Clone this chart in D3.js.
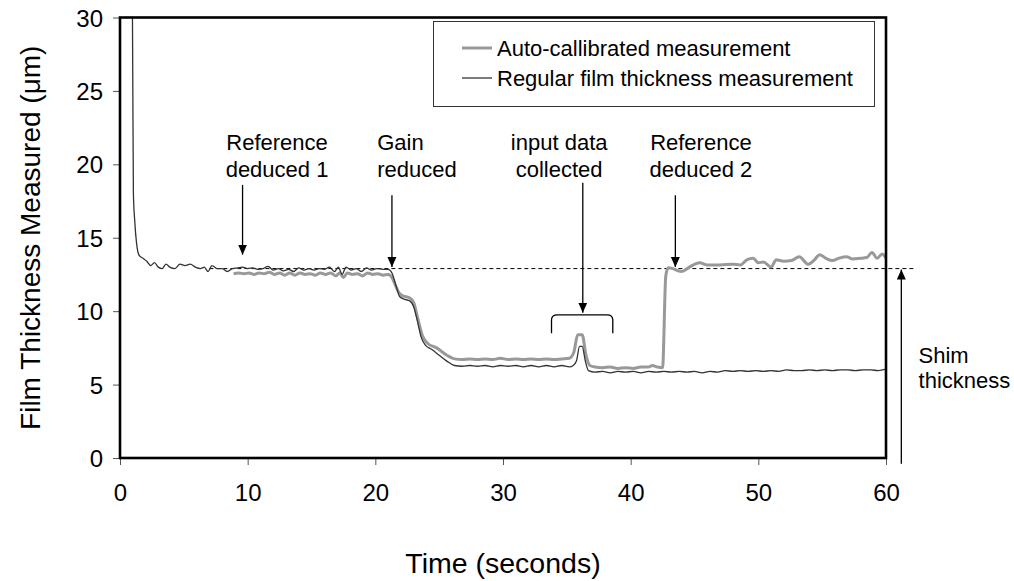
<!DOCTYPE html>
<html>
<head>
<meta charset="utf-8">
<script src="https://cdn.jsdelivr.net/npm/d3@7"></script>
<style>
  html, body { margin: 0; padding: 0; background: #fff; }
  svg { display: block; font-family: "Liberation Sans", Arial, sans-serif; }
</style>
</head>
<body>
<svg id="chart" width="1014" height="581"></svg>
<script>
// Regular film thickness measurement: [time (s), thickness (µm)]
const regularSeries = [
  [0.97, 31], [1.0, 26], [1.05, 18], [1.15, 16.2], [1.3, 14.6], [1.5, 13.8], [1.8, 13.6],
  [2.1, 13.4], [2.4, 13.1], [2.7, 13.3], [3.0, 13.0], [3.3, 12.9], [3.6, 13.2], [3.9, 13.0],
  [4.3, 12.9], [4.7, 13.2], [5.1, 13.1], [5.5, 13.2], [5.9, 13.0], [6.3, 12.9], [6.6, 13.0],
  [6.9, 12.7], [7.2, 13.1], [7.6, 12.9], [8.0, 12.9], [8.4, 12.7], [8.8, 12.9], [9.2, 12.95],
  [9.6, 13.0], [10.0, 12.9], [10.4, 12.95], [10.8, 12.85], [11.2, 12.9], [11.6, 13.05],
  [12.0, 12.8], [12.4, 12.9], [12.8, 12.75], [13.2, 12.85], [13.6, 12.7], [14.0, 12.95],
  [14.4, 12.8], [14.8, 12.9], [15.2, 12.8], [15.6, 12.9], [16.0, 12.85], [16.4, 13.0],
  [16.8, 12.7], [17.1, 13.0], [17.4, 12.5], [17.7, 13.0], [18.1, 12.8], [18.5, 12.9],
  [18.9, 12.7], [19.3, 12.95], [19.7, 12.8], [20.1, 12.9], [20.6, 12.85], [21.0, 12.85],
  [21.3, 12.6], [21.6, 11.8], [21.9, 11.0], [22.3, 10.8], [22.7, 10.7], [23.0, 10.3],
  [23.3, 9.3], [23.6, 8.2], [23.9, 7.7], [24.4, 7.4], [25.0, 7.0], [25.6, 6.6], [26.2, 6.3],
  [26.8, 6.25], [27.4, 6.3], [28.0, 6.25], [28.6, 6.3], [29.2, 6.2], [29.8, 6.3], [30.4, 6.25],
  [31.0, 6.3], [31.6, 6.2], [32.2, 6.3], [32.8, 6.2], [33.4, 6.3], [34.0, 6.2], [34.6, 6.3],
  [35.2, 6.2], [35.5, 6.3], [35.75, 6.6], [36.0, 7.6], [36.2, 7.6], [36.45, 6.6], [36.7, 5.95],
  [37.2, 5.85], [37.8, 5.9], [38.4, 5.8], [39.0, 5.9], [39.6, 5.85], [40.2, 5.9], [40.8, 5.8],
  [41.4, 5.9], [42.0, 5.85], [42.6, 5.9], [43.2, 5.85], [43.8, 5.9], [44.4, 5.85], [45.0, 5.9],
  [45.6, 5.8], [46.2, 5.9], [46.8, 5.85], [47.4, 5.95], [48.0, 5.9], [48.6, 5.95], [49.2, 5.9],
  [49.8, 5.95], [50.4, 5.9], [51.0, 5.95], [51.6, 5.9], [52.2, 6.0], [52.8, 5.95], [53.4, 5.95],
  [54.0, 6.0], [54.6, 5.95], [55.2, 6.0], [55.8, 5.95], [56.4, 6.0], [57.0, 6.0], [57.6, 5.95],
  [58.2, 6.0], [58.8, 6.0], [59.4, 5.95], [60.0, 6.05]
];

// Auto-callibrated measurement: [time (s), thickness (µm)]
const autoSeries = [
  [8.9, 12.55], [9.3, 12.6], [9.7, 12.55], [10.1, 12.6], [10.5, 12.5], [10.9, 12.6],
  [11.3, 12.55], [11.7, 12.65], [12.1, 12.5], [12.5, 12.6], [12.9, 12.45], [13.3, 12.6],
  [13.7, 12.45], [14.1, 12.6], [14.5, 12.5], [14.9, 12.55], [15.3, 12.45], [15.7, 12.6],
  [16.1, 12.5], [16.5, 12.6], [16.9, 12.4], [17.2, 12.6], [17.5, 12.3], [17.8, 12.6],
  [18.2, 12.5], [18.6, 12.55], [19.0, 12.4], [19.4, 12.6], [19.8, 12.5], [20.2, 12.55],
  [20.6, 12.45], [21.0, 12.5], [21.3, 12.3], [21.6, 11.7], [21.9, 11.2], [22.3, 11.0],
  [22.7, 10.9], [23.0, 10.6], [23.3, 9.6], [23.7, 8.3], [24.1, 7.8], [24.8, 7.5], [25.6, 7.0],
  [26.2, 6.75], [26.8, 6.7], [27.4, 6.75], [28.0, 6.7], [28.6, 6.75], [29.2, 6.7], [29.8, 6.8],
  [30.4, 6.7], [31.0, 6.75], [31.6, 6.7], [32.2, 6.75], [32.8, 6.7], [33.4, 6.75], [34.0, 6.7],
  [34.6, 6.75], [35.2, 6.8], [35.55, 7.2], [35.85, 8.4], [36.2, 8.4], [36.5, 7.0], [36.8, 6.3],
  [37.2, 6.2], [37.8, 6.15], [38.4, 6.2], [39.0, 6.1], [39.6, 6.15], [40.2, 6.1], [40.8, 6.2],
  [41.4, 6.2], [41.7, 6.3], [42.1, 6.2], [42.5, 6.15], [42.75, 12.4], [42.95, 12.95],
  [43.3, 12.9], [43.7, 12.75], [44.0, 12.7], [44.6, 13.0], [45.4, 13.3], [46.0, 13.15],
  [47.0, 13.15], [48.0, 13.2], [48.6, 13.15], [49.1, 13.5], [49.6, 13.6], [50.0, 13.3],
  [50.4, 13.35], [51.0, 13.0], [51.4, 13.5], [52.0, 13.4], [52.6, 13.45], [53.2, 13.7],
  [53.9, 13.2], [54.4, 13.5], [54.8, 13.85], [55.3, 13.6], [55.8, 13.45], [56.3, 13.6],
  [56.9, 13.7], [57.4, 13.55], [58.0, 13.6], [58.5, 13.65], [58.9, 14.0], [59.3, 13.6],
  [59.7, 13.9], [60.0, 13.6]
];

const xTicks = [0, 10, 20, 30, 40, 50, 60];
const yTicks = [0, 5, 10, 15, 20, 25, 30];

const legendLabels = ["Auto-callibrated measurement", "Regular film thickness measurement"];

// Level of the reference shim
const shimLevel = 12.9;

// Event annotations: text lines, text anchor position (time, thickness), arrow from/to thickness
const annotations = [
  { lines: ["Reference", "deduced 1"], tx: 12.3, anchor: "middle", arrowT: 9.6, from: 18.6, to: 13.85 },
  { lines: ["Gain", "reduced"], tx: 20.15, anchor: "start", arrowT: 21.3, from: 17.9, to: 13.0 },
  { lines: ["input data", "collected"], tx: 34.4, anchor: "middle", arrowT: 36.25, from: 18.75, to: 9.9 },
  { lines: ["Reference", "deduced 2"], tx: 45.5, anchor: "middle", arrowT: 43.5, from: 17.9, to: 13.0 }
];
const annotationLineValues = [21.0, 19.15];

// Bracket marking the data collection window
const bracketRange = [33.8, 38.6];
const bracketTop = 9.75, bracketFoot = 8.5;

const svg = d3.select("#chart");
const margin = { left: 120, top: 17.5, right: 128, bottom: 123 };
const W = 1014, H = 581;
const x = d3.scaleLinear().domain([0, 60]).range([margin.left, W - margin.right]);
const y = d3.scaleLinear().domain([0, 30]).range([H - margin.bottom, margin.top]);
const textSize = 22;

// arrowhead
svg.append("defs").append("marker")
  .attr("id", "head").attr("viewBox", "0 0 10 10")
  .attr("refX", 10).attr("refY", 5)
  .attr("markerWidth", 10).attr("markerHeight", 10)
  .attr("markerUnits", "userSpaceOnUse")
  .attr("orient", "auto")
  .append("path").attr("d", "M0,0.5 L10,5 L0,9.5 Z").attr("fill", "#000");

svg.select("defs").append("clipPath").attr("id", "plotClip")
  .append("rect")
  .attr("x", x(0)).attr("y", y(30))
  .attr("width", x(60) - x(0)).attr("height", y(0) - y(30));

// Axes
const yAxis = svg.append("g").attr("transform", `translate(${x(0)},0)`)
  .call(d3.axisLeft(y).tickValues(yTicks).tickSize(7).tickPadding(10));
const xAxis = svg.append("g").attr("transform", `translate(0,${y(0)})`)
  .call(d3.axisBottom(x).tickValues(xTicks).tickSize(7).tickPadding(19));
[xAxis, yAxis].forEach(g => {
  g.select(".domain").remove();
  g.selectAll(".tick line").attr("stroke", "#555").attr("stroke-width", 1);
  g.selectAll(".tick text").attr("fill", "#000").attr("font-size", 24)
    .attr("font-family", "'Liberation Sans', Arial, sans-serif");
});
yAxis.selectAll(".tick text").attr("dy", "0.36em");

// Dashed shim reference line
svg.append("line")
  .attr("x1", x(7.0)).attr("x2", x(62.3))
  .attr("y1", y(shimLevel)).attr("y2", y(shimLevel))
  .attr("stroke", "#000").attr("stroke-width", 1)
  .attr("stroke-dasharray", "4,3");

// Data lines
const line = d3.line().x(d => x(d[0])).y(d => y(d[1])).curve(d3.curveMonotoneX);
const plot = svg.append("g").attr("clip-path", "url(#plotClip)");
plot.append("path").datum(autoSeries)
  .attr("d", line).attr("fill", "none")
  .attr("stroke", "#999").attr("stroke-width", 3).attr("stroke-linejoin", "round");
plot.append("path").datum(regularSeries)
  .attr("d", line).attr("fill", "none")
  .attr("stroke", "#333").attr("stroke-width", 1.3).attr("stroke-linejoin", "round");

// Plot frame
svg.append("rect")
  .attr("x", x(0)).attr("y", y(30))
  .attr("width", x(60) - x(0)).attr("height", y(0) - y(30))
  .attr("fill", "none").attr("stroke", "#000").attr("stroke-width", 2.6);

// Annotations
const ann = svg.append("g").attr("font-size", textSize).attr("fill", "#000");
annotations.forEach(a => {
  a.lines.forEach((t, i) => {
    ann.append("text")
      .attr("x", x(a.tx)).attr("y", y(annotationLineValues[i]))
      .attr("text-anchor", a.anchor).text(t);
  });
  ann.append("line")
    .attr("x1", x(a.arrowT)).attr("x2", x(a.arrowT))
    .attr("y1", y(a.from)).attr("y2", y(a.to))
    .attr("stroke", "#000").attr("stroke-width", 1.3)
    .attr("marker-end", "url(#head)");
});

// Bracket
const bx0 = x(bracketRange[0]), bx1 = x(bracketRange[1]);
const byT = y(bracketTop), byF = y(bracketFoot);
svg.append("path")
  .attr("d", `M${bx0},${byF} L${bx0},${byT + 5} Q${bx0},${byT} ${bx0 + 6},${byT} ` +
             `L${bx1 - 6},${byT} Q${bx1},${byT} ${bx1},${byT + 5} L${bx1},${byF}`)
  .attr("fill", "none").attr("stroke", "#000").attr("stroke-width", 1.3);

// Shim thickness arrow and label
svg.append("line")
  .attr("x1", x(61.2)).attr("x2", x(61.2))
  .attr("y1", y(-0.4)).attr("y2", y(shimLevel) + 1)
  .attr("stroke", "#000").attr("stroke-width", 1.3)
  .attr("marker-end", "url(#head)");
ann.append("text").attr("x", x(62.55)).attr("y", y(6.5)).text("Shim");
ann.append("text").attr("x", x(62.55)).attr("y", y(4.75)).text("thickness");

// Legend
const lg = svg.append("g");
lg.append("rect").attr("x", 433.5).attr("y", 21.5).attr("width", 441).attr("height", 85)
  .attr("fill", "#fff").attr("stroke", "#333").attr("stroke-width", 1);
const legendStyles = [{ c: "#999", w: 3 }, { c: "#333", w: 1.3 }];
legendLabels.forEach((lab, i) => {
  const cy = 48 + i * 30;
  lg.append("line").attr("x1", 462).attr("x2", 492).attr("y1", cy).attr("y2", cy)
    .attr("stroke", legendStyles[i].c).attr("stroke-width", legendStyles[i].w);
  lg.append("text").attr("x", 497).attr("y", cy).attr("dy", "0.36em")
    .attr("font-size", textSize).text(lab);
});

// Axis titles
svg.append("text").attr("x", (x(0) + x(60)) / 2).attr("y", 573)
  .attr("text-anchor", "middle").attr("font-size", 28.5).text("Time (seconds)");
svg.append("text")
  .attr("transform", `translate(40,${(y(0) + y(30)) / 2}) rotate(-90)`)
  .attr("text-anchor", "middle").attr("font-size", 28)
  .text("Film Thickness Measured (μm)");
</script>
</body>
</html>
